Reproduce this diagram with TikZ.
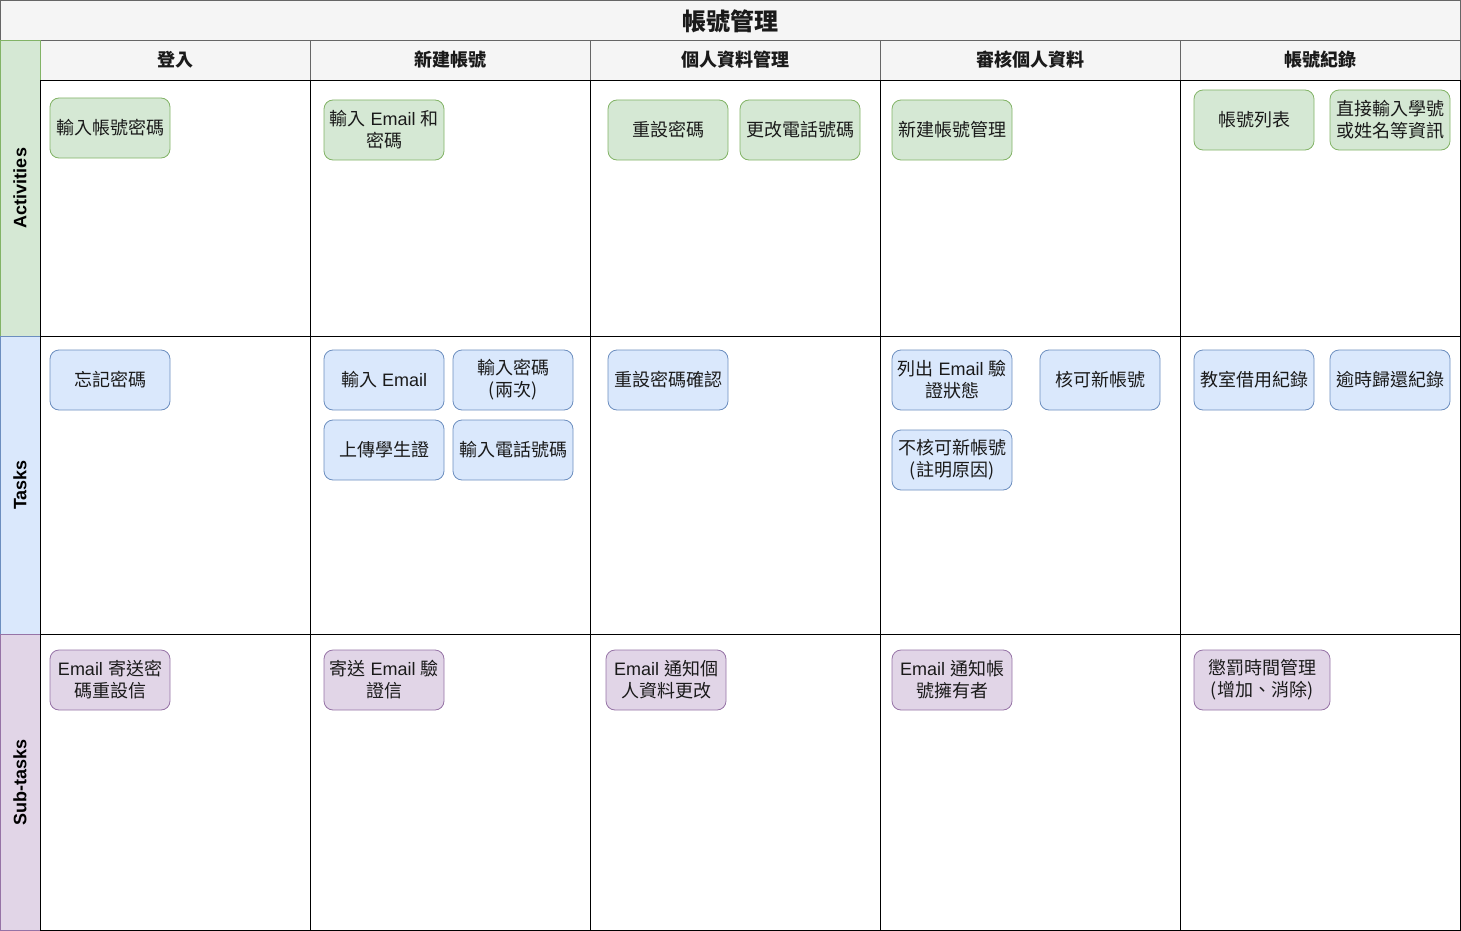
\documentclass[tikz,border=0pt]{standalone}
\usepackage{fontspec}
\setmainfont{Liberation Sans}
\newfontfamily\cjk{Noto Sans CJK TC}
\newcommand\zh[1]{{\cjk #1}}
\definecolor{hdfill}{HTML}{F5F5F5}
\definecolor{hdline}{HTML}{666666}
\definecolor{gfill}{HTML}{D5E8D4}
\definecolor{gline}{HTML}{82B366}
\definecolor{bfill}{HTML}{DAE8FC}
\definecolor{bline}{HTML}{6C8EBF}
\definecolor{pfill}{HTML}{E1D5E7}
\definecolor{pline}{HTML}{9673A6}
\definecolor{txt}{HTML}{1A1A1A}
\tikzset{
  box/.style={rounded corners=9pt, minimum width=120pt, minimum height=60pt, inner sep=0pt,
    align=center, font=\fontsize{18}{22}\selectfont, text=txt, line width=0.8pt},
  act/.style={box, fill=gfill, draw=gline},
  tsk/.style={box, fill=bfill, draw=bline},
  sub/.style={box, fill=pfill, draw=pline},
  hdr/.style={font=\fontsize{18}{22}\selectfont\bfseries, text=txt},
  side/.style={font=\fontsize{18}{22}\selectfont\bfseries, rotate=90, text=black},
}
\begin{document}
\begin{tikzpicture}[x=1pt, y=-1pt]
\useasboundingbox (0,0) rectangle (1461,931);
% title
\draw[fill=hdfill, draw=hdline] (0.5,0.5) rectangle (1460.5,40);
\node[font=\fontsize{24}{28}\selectfont\bfseries, text=txt] (title) at (730,21) {\zh{帳號管理}};
% header row
\foreach \a/\b in {40/310,310/590,590/880,880/1180,1180/1460.5}
  \draw[fill=hdfill, draw=hdline] (\a,40) rectangle (\b,80);
\node[hdr] (h1) at (175,60) {\zh{登入}};
\node[hdr] (h2) at (450,60) {\zh{新建帳號}};
\node[hdr] (h3) at (735,60) {\zh{個人資料管理}};
\node[hdr] (h4) at (1030,60) {\zh{審核個人資料}};
\node[hdr] (h5) at (1320,60) {\zh{帳號紀錄}};
% row labels
\draw[fill=gfill, draw=gline] (0.5,40) rectangle (40,336);
\draw[fill=bfill, draw=bline] (0.5,336) rectangle (40,634);
\draw[fill=pfill, draw=pline] (0.5,634) rectangle (40,930.5);
\node[side] (r1) at (20,188) {Activities};
\node[side] (r2) at (20,485) {Tasks};
\node[side] (r3) at (20,782) {Sub-tasks};
% body cells
\foreach \a/\b in {40/310,310/590,590/880,880/1180,1180/1460.5}{
  \draw[black] (\a,80) rectangle (\b,336);
  \draw[black] (\a,336) rectangle (\b,634);
  \draw[black] (\a,634) rectangle (\b,930.5);
}
% Activities
\node[act] (a1) at (110,128) {\zh{輸入帳號密碼}};
\node[act] (a2) at (384,130) {\zh{輸入} Email \zh{和}\\\zh{密碼}};
\node[act] (a3) at (668,130) {\zh{重設密碼}};
\node[act] (a4) at (800,130) {\zh{更改電話號碼}};
\node[act] (a5) at (952,130) {\zh{新建帳號管理}};
\node[act] (a6) at (1254,120) {\zh{帳號列表}};
\node[act] (a7) at (1390,120) {\zh{直接輸入學號}\\\zh{或姓名等資訊}};
% Tasks
\node[tsk] (t1) at (110,380) {\zh{忘記密碼}};
\node[tsk] (t2) at (384,380) {\zh{輸入} Email};
\node[tsk] (t3) at (513,380) {\zh{輸入密碼}\\\zh{(兩次)}};
\node[tsk] (t4) at (384,450) {\zh{上傳學生證}};
\node[tsk] (t5) at (513,450) {\zh{輸入電話號碼}};
\node[tsk] (t6) at (668,380) {\zh{重設密碼確認}};
\node[tsk] (t7) at (952,380) {\zh{列出} Email \zh{驗}\\\zh{證狀態}};
\node[tsk] (t8) at (1100,380) {\zh{核可新帳號}};
\node[tsk] (t9) at (952,460) {\zh{不核可新帳號}\\\zh{(註明原因)}};
\node[tsk] (t10) at (1254,380) {\zh{教室借用紀錄}};
\node[tsk] (t11) at (1390,380) {\zh{逾時歸還紀錄}};
% Sub-tasks
\node[sub] (s1) at (110,680) {Email \zh{寄送密}\\\zh{碼重設信}};
\node[sub] (s2) at (384,680) {\zh{寄送} Email \zh{驗}\\\zh{證信}};
\node[sub] (s3) at (666,680) {Email \zh{通知個}\\\zh{人資料更改}};
\node[sub] (s4) at (952,680) {Email \zh{通知帳}\\\zh{號擁有者}};
\node[sub, minimum width=136pt] (s5) at (1262,680) {\zh{懲罰時間管理}\\\zh{(增加、消除)}};
\end{tikzpicture}
\end{document}
